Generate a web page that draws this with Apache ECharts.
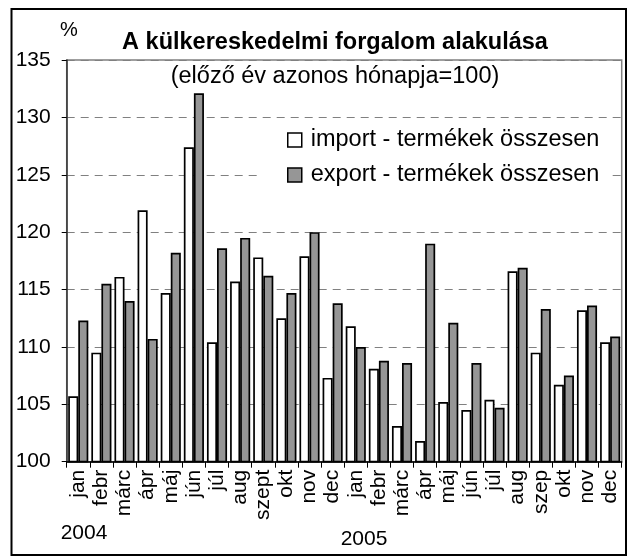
<!DOCTYPE html>
<html>
<head>
<meta charset="utf-8">
<script src="https://cdn.jsdelivr.net/npm/echarts@6/dist/echarts.min.js"></script>
<style>
  html, body { margin: 0; padding: 0; background: #fff; }
  #chart { width: 631px; height: 557px; }
</style>
</head>
<body>
<div id="chart"></div>
<script>
// honapok (2004 + 2005)
let months = ['jan', 'febr', 'márc', 'ápr', 'máj', 'jún', 'júl', 'aug', 'szept', 'okt', 'nov', 'dec',
  'jan', 'febr', 'márc', 'ápr', 'máj', 'jún', 'júl', 'aug', 'szep', 'okt', 'nov', 'dec']
let years = ['2004', '2005']
let importVals = [105.7, 109.5, 116.1, 121.9, 114.7, 127.4, 110.4, 115.7, 117.8, 112.5, 117.9, 107.3,
  111.8, 108.1, 103.1, 101.8, 105.2, 104.5, 105.4, 116.6, 109.5, 106.7, 113.2, 110.4]
let exportVals = [112.3, 115.5, 114.0, 110.7, 118.2, 132.1, 118.6, 119.5, 116.2, 114.7, 120.0, 113.8,
  110.0, 108.8, 108.6, 119.0, 112.1, 108.6, 104.7, 116.9, 113.3, 107.5, 113.6, 110.9]
let seriesNames = ['import - termékek összesen', 'export - termékek összesen']

let font = 'Liberation Sans, Arial, sans-serif'
let dom = echarts.init(document.getElementById('chart'))

let option = {
  animation: false,
  textStyle: { fontFamily: font },
  grid: {
    left: 66.7, right: 9.3, top: 60, bottom: 95.3,
    show: true, borderColor: '#808080', borderWidth: 1.5
  },
  legend: {
    orient: 'vertical',
    left: 262,
    top: 124,
    padding: [4, 10, 6, 25],
    backgroundColor: '#fff',
    itemWidth: 14,
    itemHeight: 14,
    itemGap: 11,
    icon: 'rect',
    itemStyle: { borderColor: '#000', borderWidth: 1.5 },
    textStyle: { fontSize: 23.5, color: '#000', fontFamily: font, lineHeight: 24, padding: [0, 0, 0, 4] },
    data: seriesNames
  },
  xAxis: {
    type: 'category',
    data: months,
    axisLine: { lineStyle: { color: '#000', width: 1.5 } },
    axisTick: { show: true, alignWithLabel: false, interval: 0, length: 6, lineStyle: { color: '#000' } },
    axisLabel: { interval: 0, rotate: 90, fontSize: 21, color: '#000', margin: 8, fontFamily: font }
  },
  yAxis: {
    type: 'value',
    min: 100,
    max: 135,
    interval: 5,
    axisLine: { show: true, lineStyle: { color: '#333', width: 1.5 } },
    axisTick: { show: true, length: 5, lineStyle: { color: '#000' } },
    axisLabel: { fontSize: 21, color: '#000', margin: 16, fontFamily: font },
    splitLine: { lineStyle: { color: '#808080', type: [8, 6], width: 1 } }
  },
  series: [
    {
      name: seriesNames[0],
      type: 'bar',
      data: importVals,
      barGap: '0%',
      barCategoryGap: '13%',
      itemStyle: { color: '#fff', borderColor: '#000', borderWidth: 1.7 }
    },
    {
      name: seriesNames[1],
      type: 'bar',
      data: exportVals,
      itemStyle: { color: '#969696', borderColor: '#000', borderWidth: 1.7 }
    }
  ],
  graphic: [
    {
      type: 'rect', silent: true,
      shape: { x: 11.5, y: 9, width: 614.5, height: 546 },
      style: { fill: 'none', stroke: '#000', lineWidth: 2 }
    },
    {
      type: 'text', x: 69, y: 30,
      style: { text: '%', font: '20px ' + font, fill: '#000', textAlign: 'center', textVerticalAlign: 'middle' }
    },
    {
      type: 'text', x: 335, y: 43,
      style: { text: 'A külkereskedelmi forgalom alakulása', font: 'bold 23.5px ' + font, fill: '#000', textAlign: 'center', textVerticalAlign: 'middle' }
    },
    {
      type: 'text', x: 335, y: 77, z: 10,
      style: { text: '(előző év azonos hónapja=100)', font: '23.5px ' + font, fill: '#000', textAlign: 'center', textVerticalAlign: 'middle' }
    },
    {
      type: 'text', x: 84, y: 533,
      style: { text: years[0], font: '21px ' + font, fill: '#000', textAlign: 'center', textVerticalAlign: 'middle' }
    },
    {
      type: 'text', x: 364, y: 539,
      style: { text: years[1], font: '21px ' + font, fill: '#000', textAlign: 'center', textVerticalAlign: 'middle' }
    }
  ]
}
dom.setOption(option, true)
</script>
</body>
</html>
